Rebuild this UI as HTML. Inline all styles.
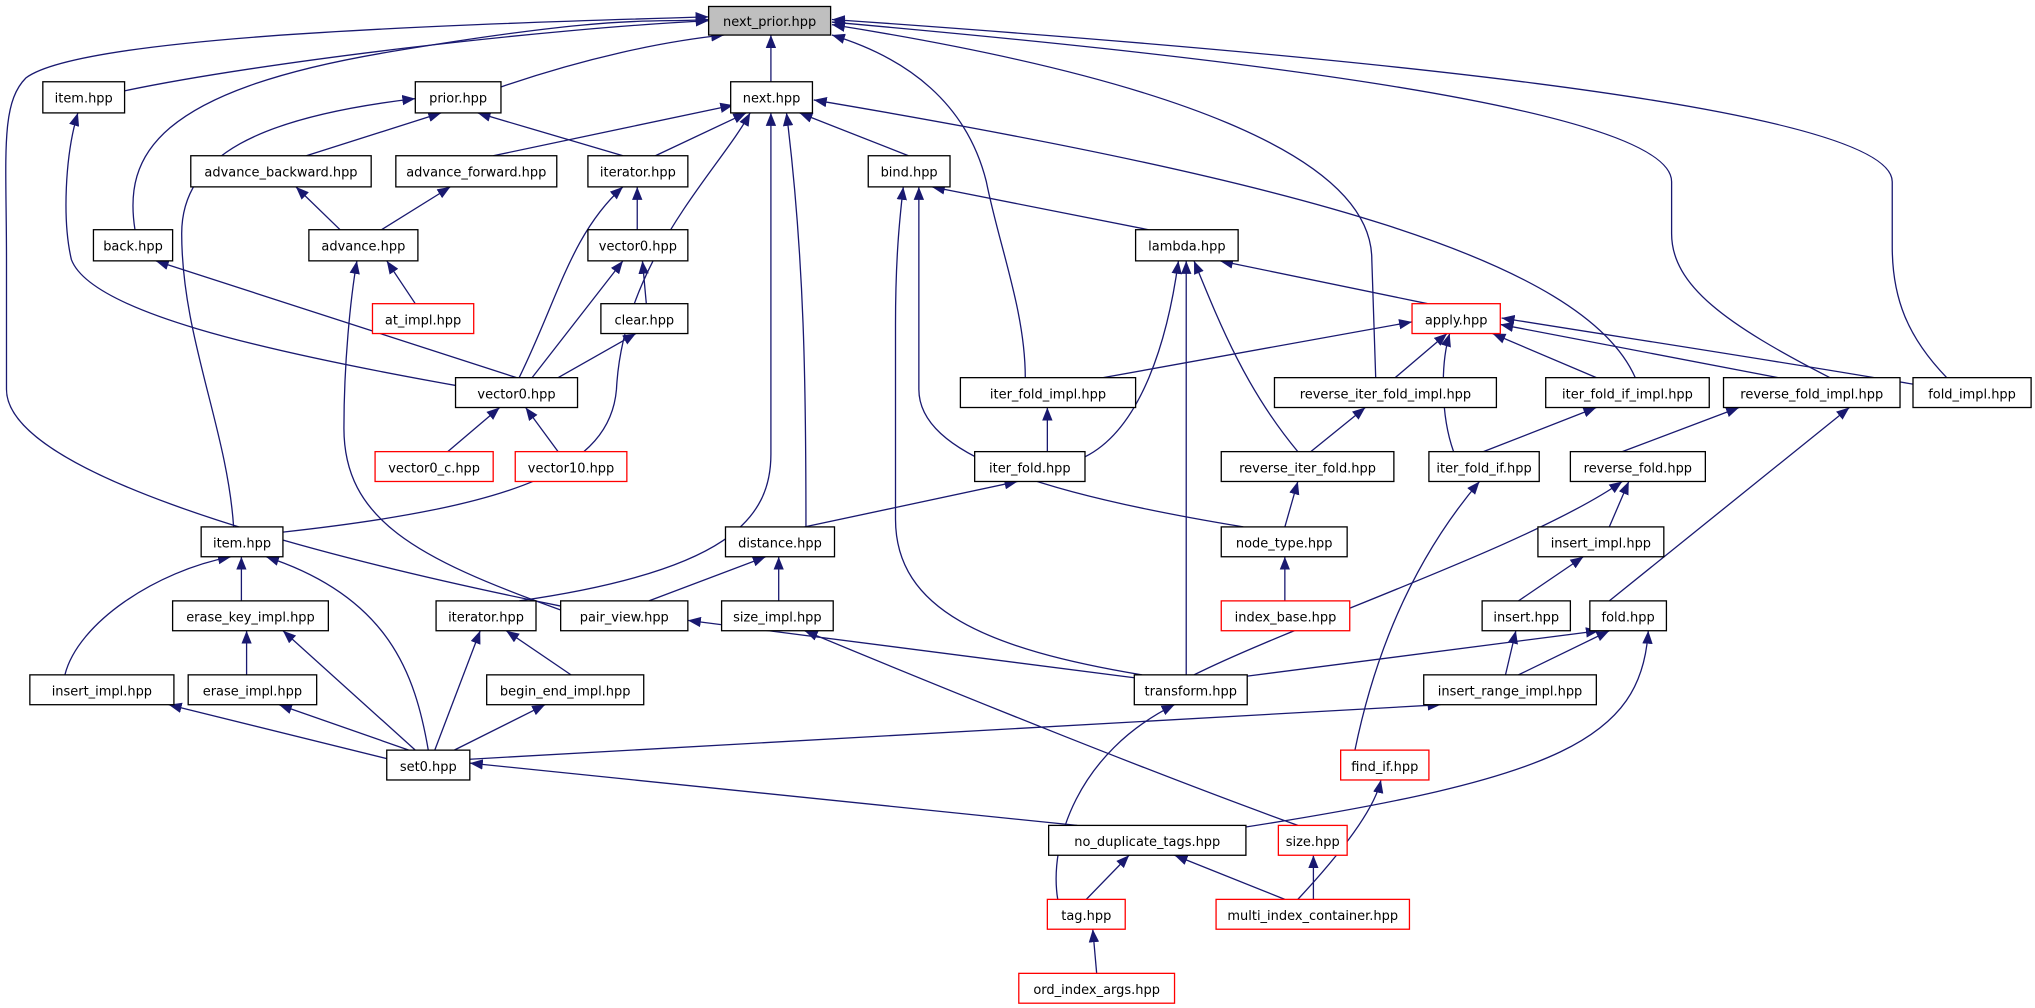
<!DOCTYPE html>
<html><head><meta charset="utf-8"><style>
html,body{margin:0;padding:0;background:#fff;width:2035px;height:1008px;overflow:hidden}
svg{display:block}
text{font-family:"DejaVu Sans","Liberation Sans",sans-serif;font-size:10px;text-anchor:middle;fill:#000}
.e{fill:none;stroke:#191970;stroke-width:1;marker-end:url(#a)}
.n{fill:#fff;stroke:#000;stroke-width:1}
.r{fill:#fff;stroke:#ff0000;stroke-width:1}
</style></head><body>
<svg width="2035" height="1008" viewBox="0 0 1568 776.7" preserveAspectRatio="none" xmlns="http://www.w3.org/2000/svg">
<defs><marker id="a" markerUnits="userSpaceOnUse" markerWidth="10" markerHeight="8" refX="10" refY="4" orient="auto"><path d="M0,0 L10,4 L0,8z" fill="#191970"/></marker></defs>
<g>
<path class="e" d="M96,70 C200,48 420,22 546,16"/>
<path class="e" d="M386,67 C450,45 510,32 558,27"/>
<path class="e" d="M594,63 L594,27"/>
<path class="e" d="M104,177 C95,120 120,70 300,40 S500,18 546,15"/>
<path class="e" d="M432,467 C200,420 5,360 5,300 L5,200 C5,120 0,80 20,60 C60,30 300,20 546,13"/>
<path class="e" d="M790,291 C790,240 770,190 760,140 C745,80 700,45 641,27"/>
<path class="e" d="M1060,291 L1057,200 C1057,120 900,60 641,19"/>
<path class="e" d="M1410,291 C1330,250 1288,220 1288,180 L1288,140 C1288,80 900,40 641,17"/>
<path class="e" d="M1500,291 C1470,260 1458,230 1458,190 L1458,140 C1458,80 1000,40 641,15"/>
<path class="e" d="M351,297 C200,270 70,240 55,200 C48,170 50,120 60,87"/>
<path class="e" d="M180,406 C175,330 140,260 140,180 C140,120 200,90 320,76"/>
<path class="e" d="M236,120 L340,87"/>
<path class="e" d="M480,120 L368,87"/>
<path class="e" d="M380,120 L565,81"/>
<path class="e" d="M505,120 L575,87"/>
<path class="e" d="M218,410 C400,390 470,360 475,300 C480,200 555,130 578,87"/>
<path class="e" d="M400,463 C560,440 594,400 594,350 L594,87"/>
<path class="e" d="M621,406 C621,300 620,200 606,87"/>
<path class="e" d="M700,120 L616,87"/>
<path class="e" d="M1260,291 C1220,200 1000,140 627,77"/>
<path class="e" d="M262,177 L228,144"/>
<path class="e" d="M294,177 L347,144"/>
<path class="e" d="M400,291 C430,230 440,180 480,144"/>
<path class="e" d="M491,177 L491,144"/>
<path class="e" d="M320,234 L298,201"/>
<path class="e" d="M432,470 C320,430 265,400 265,330 C265,280 270,230 275,201"/>
<path class="e" d="M398,291 L120,201"/>
<path class="e" d="M498,234 L495,201"/>
<path class="e" d="M410,291 L480,201"/>
<path class="e" d="M430,291 L490,257"/>
<path class="e" d="M345,348 L385,314"/>
<path class="e" d="M430,348 L405,314"/>
<path class="e" d="M885,177 L718,144"/>
<path class="e" d="M958,406 C800,380 708,350 708,300 L708,144"/>
<path class="e" d="M880,520 C760,500 690,470 690,400 L690,250 C690,200 693,170 696,144"/>
<path class="e" d="M1100,234 L940,201"/>
<path class="e" d="M836,352 C880,330 900,260 908,201"/>
<path class="e" d="M914,520 L914,201"/>
<path class="e" d="M1000,348 C960,300 940,250 920,201"/>
<path class="e" d="M850,291 L1088,248"/>
<path class="e" d="M1075,291 L1115,257"/>
<path class="e" d="M1230,291 L1150,257"/>
<path class="e" d="M1370,291 L1156,250"/>
<path class="e" d="M1474,296 C1350,275 1250,260 1157,245"/>
<path class="e" d="M1120,348 C1110,320 1110,280 1117,257"/>
<path class="e" d="M807,348 L807,314"/>
<path class="e" d="M1010,348 L1052,314"/>
<path class="e" d="M1143,348 L1230,314"/>
<path class="e" d="M1250,348 L1340,314"/>
<path class="e" d="M1240,463 L1425,314"/>
<path class="e" d="M620,406 L784,371"/>
<path class="e" d="M990,406 L1000,371"/>
<path class="e" d="M1044,578 C1060,500 1090,430 1140,371"/>
<path class="e" d="M1240,406 L1255,371"/>
<path class="e" d="M920,520 C1000,480 1180,420 1250,371"/>
<path class="e" d="M500,463 L590,429"/>
<path class="e" d="M600,463 L600,429"/>
<path class="e" d="M990,463 L990,429"/>
<path class="e" d="M1170,463 L1220,429"/>
<path class="e" d="M186,463 L186,429"/>
<path class="e" d="M50,520 C60,480 120,440 178,429"/>
<path class="e" d="M330,578 C320,520 300,460 205,429"/>
<path class="e" d="M190,520 L190,486"/>
<path class="e" d="M320,578 L218,486"/>
<path class="e" d="M440,520 L390,486"/>
<path class="e" d="M335,578 L370,486"/>
<path class="e" d="M880,523 L530,478"/>
<path class="e" d="M1000,636 C900,600 750,540 620,486"/>
<path class="e" d="M1160,520 L1168,486"/>
<path class="e" d="M1170,520 L1240,486"/>
<path class="e" d="M961,521 L1232,486"/>
<path class="e" d="M955,638 C1200,600 1265,570 1270,486"/>
<path class="e" d="M300,585 L130,543"/>
<path class="e" d="M315,578 L215,543"/>
<path class="e" d="M350,578 L420,543"/>
<path class="e" d="M362,585 L1110,543"/>
<path class="e" d="M830,636 L362,588"/>
<path class="e" d="M815,693 C808,650 830,580 905,543"/>
<path class="e" d="M1000,693 C1040,650 1060,620 1064,601"/>
<path class="e" d="M1012,693 L1012,659"/>
<path class="e" d="M990,693 L905,659"/>
<path class="e" d="M837,693 L870,659"/>
<path class="e" d="M845,750 L842,716"/>
</g>
<g>
<rect x="546" y="5" width="94" height="22" fill="#bfbfbf" stroke="#000"/><text x="593" y="20">next_prior.hpp</text>
<rect class="n" x="33" y="63" width="63" height="24"/><text x="64.5" y="79">item.hpp</text>
<rect class="n" x="320" y="63" width="66" height="24"/><text x="353" y="79">prior.hpp</text>
<rect class="n" x="563" y="63" width="63" height="24"/><text x="594.5" y="79">next.hpp</text>
<rect class="n" x="147" y="120" width="139" height="24"/><text x="216.5" y="136">advance_backward.hpp</text>
<rect class="n" x="305" y="120" width="124" height="24"/><text x="367" y="136">advance_forward.hpp</text>
<rect class="n" x="453" y="120" width="77" height="24"/><text x="491.5" y="136">iterator.hpp</text>
<rect class="n" x="669" y="120" width="63" height="24"/><text x="700.5" y="136">bind.hpp</text>
<rect class="n" x="72" y="177" width="61" height="24"/><text x="102.5" y="193">back.hpp</text>
<rect class="n" x="238" y="177" width="84" height="24"/><text x="280" y="193">advance.hpp</text>
<rect class="n" x="453" y="177" width="77" height="24"/><text x="491.5" y="193">vector0.hpp</text>
<rect class="n" x="875" y="177" width="79" height="24"/><text x="914.5" y="193">lambda.hpp</text>
<rect class="r" x="287" y="234" width="78" height="23"/><text x="326" y="250">at_impl.hpp</text>
<rect class="n" x="463" y="234" width="67" height="23"/><text x="496.5" y="250">clear.hpp</text>
<rect class="r" x="1088" y="234" width="68" height="23"/><text x="1122" y="250">apply.hpp</text>
<rect class="n" x="351" y="291" width="94" height="23"/><text x="398" y="307">vector0.hpp</text>
<rect class="n" x="740" y="291" width="135" height="23"/><text x="807.5" y="307">iter_fold_impl.hpp</text>
<rect class="n" x="982" y="291" width="171" height="23"/><text x="1067.5" y="307">reverse_iter_fold_impl.hpp</text>
<rect class="n" x="1191" y="291" width="126" height="23"/><text x="1254" y="307">iter_fold_if_impl.hpp</text>
<rect class="n" x="1328" y="291" width="136" height="23"/><text x="1396" y="307">reverse_fold_impl.hpp</text>
<rect class="n" x="1474" y="291" width="91" height="23"/><text x="1519.5" y="307">fold_impl.hpp</text>
<rect class="r" x="289" y="348" width="91" height="23"/><text x="334.5" y="364">vector0_c.hpp</text>
<rect class="r" x="397" y="348" width="86" height="23"/><text x="440" y="364">vector10.hpp</text>
<rect class="n" x="751" y="348" width="85" height="23"/><text x="793.5" y="364">iter_fold.hpp</text>
<rect class="n" x="941" y="348" width="133" height="23"/><text x="1007.5" y="364">reverse_iter_fold.hpp</text>
<rect class="n" x="1101" y="348" width="85" height="23"/><text x="1143.5" y="364">iter_fold_if.hpp</text>
<rect class="n" x="1210" y="348" width="104" height="23"/><text x="1262" y="364">reverse_fold.hpp</text>
<rect class="n" x="155" y="406" width="63" height="23"/><text x="186.5" y="422">item.hpp</text>
<rect class="n" x="559" y="406" width="84" height="23"/><text x="601" y="422">distance.hpp</text>
<rect class="n" x="941" y="406" width="97" height="23"/><text x="989.5" y="422">node_type.hpp</text>
<rect class="n" x="1185" y="406" width="97" height="23"/><text x="1233.5" y="422">insert_impl.hpp</text>
<rect class="n" x="133" y="463" width="120" height="23"/><text x="193" y="479">erase_key_impl.hpp</text>
<rect class="n" x="336" y="463" width="77" height="23"/><text x="374.5" y="479">iterator.hpp</text>
<rect class="n" x="432" y="463" width="98" height="23"/><text x="481" y="479">pair_view.hpp</text>
<rect class="n" x="556" y="463" width="86" height="23"/><text x="599" y="479">size_impl.hpp</text>
<rect class="r" x="941" y="463" width="99" height="23"/><text x="990.5" y="479">index_base.hpp</text>
<rect class="n" x="1142" y="463" width="68" height="23"/><text x="1176" y="479">insert.hpp</text>
<rect class="n" x="1225" y="463" width="59" height="23"/><text x="1254.5" y="479">fold.hpp</text>
<rect class="n" x="23" y="520" width="111" height="23"/><text x="78.5" y="536">insert_impl.hpp</text>
<rect class="n" x="145" y="520" width="99" height="23"/><text x="194.5" y="536">erase_impl.hpp</text>
<rect class="n" x="375" y="520" width="121" height="23"/><text x="435.5" y="536">begin_end_impl.hpp</text>
<rect class="n" x="874" y="520" width="87" height="23"/><text x="917.5" y="536">transform.hpp</text>
<rect class="n" x="1097" y="520" width="133" height="23"/><text x="1163.5" y="536">insert_range_impl.hpp</text>
<rect class="n" x="298" y="578" width="64" height="23"/><text x="330" y="594">set0.hpp</text>
<rect class="r" x="1033" y="578" width="68" height="23"/><text x="1067" y="594">find_if.hpp</text>
<rect class="n" x="808" y="636" width="152" height="23"/><text x="884" y="652">no_duplicate_tags.hpp</text>
<rect class="r" x="985" y="636" width="53" height="23"/><text x="1011.5" y="652">size.hpp</text>
<rect class="r" x="807" y="693" width="60" height="23"/><text x="837" y="709">tag.hpp</text>
<rect class="r" x="937" y="693" width="149" height="23"/><text x="1011.5" y="709">multi_index_container.hpp</text>
<rect class="r" x="785" y="750" width="120" height="23"/><text x="845" y="766">ord_index_args.hpp</text>
</g>
</svg>
</body></html>
